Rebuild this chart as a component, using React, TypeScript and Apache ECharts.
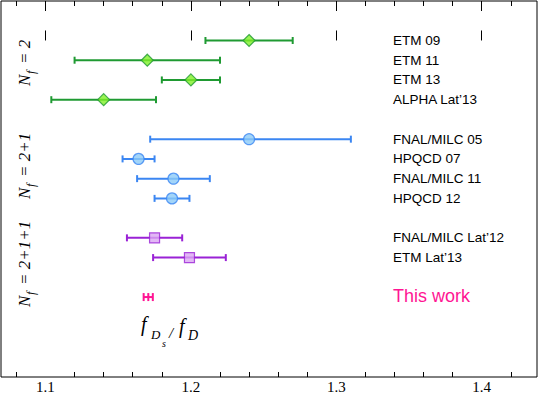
import React, { useEffect, useRef } from 'react';
import * as echarts from 'echarts';

// ---- data ----
const names = [
  'ETM 09', 'ETM 11', 'ETM 13', 'ALPHA Lat\u201913',
  'FNAL/MILC 05', 'HPQCD 07', 'FNAL/MILC 11', 'HPQCD 12',
  'FNAL/MILC Lat\u201912', 'ETM Lat\u201913', 'This work',
];
const rowIndex = [0, 1, 2, 3, 5, 6, 7, 8, 10, 11, 13];
const central = [1.24, 1.17, 1.2, 1.14, 1.24, 1.164, 1.188, 1.187, 1.175, 1.199, 1.1707];
const lower = [1.21, 1.12, 1.18, 1.104, 1.172, 1.153, 1.163, 1.175, 1.156, 1.174, 1.1675];
const upper = [1.27, 1.22, 1.22, 1.176, 1.31, 1.175, 1.213, 1.199, 1.194, 1.224, 1.1738];
const groupOf = ['nf2', 'nf2', 'nf2', 'nf2', 'nf21', 'nf21', 'nf21', 'nf21', 'nf211', 'nf211', 'this'];
const majorTicks = [1.1, 1.2, 1.3, 1.4];
const minorTicks = [1.08, 1.12, 1.14, 1.16, 1.18, 1.22, 1.24, 1.26, 1.28, 1.32, 1.34, 1.36, 1.38, 1.42];

const styles: Record<string, { line: string; fill: string; symbol: string; size: number }> = {
  nf2: { line: '#1f9a32', fill: '#80f028', symbol: 'diamond', size: 12 },
  nf21: { line: '#3b86f2', fill: '#8ccaf8', symbol: 'circle', size: 11 },
  nf211: { line: '#9a22d6', fill: '#dba6f2', symbol: 'rect', size: 10 },
  this: { line: '#ff1493', fill: '#ff1493', symbol: 'none', size: 0 },
};

const X_MIN = 1.0694;
const X_MAX = 1.438;

function nfLabel(bottomY: number, rest: string) {
  const font = 'italic 17px "Liberation Serif", "DejaVu Serif", serif';
  return {
    type: 'group',
    x: 24.5,
    y: bottomY,
    rotation: Math.PI / 2,
    children: [
      { type: 'text', x: 0, y: 0, style: { text: 'N', font, fill: '#000', align: 'left', verticalAlign: 'middle' } },
      { type: 'text', x: 12, y: 6, style: { text: 'f', font: 'italic 12px "Liberation Serif", serif', fill: '#000', align: 'left', verticalAlign: 'middle' } },
      { type: 'text', x: 22, y: 0, style: { text: rest, font, fill: '#000', align: 'left', verticalAlign: 'middle' } },
    ],
  };
}

export default function App() {
  const ref = useRef<HTMLDivElement>(null);
  useEffect(() => {
    document.body.style.margin = '0';
    const chart = echarts.init(ref.current!, null, { renderer: 'svg' });

    const customData = names.map((_, i) => [lower[i], upper[i], rowIndex[i], central[i], i]);

    const markerSeries = ['nf2', 'nf21', 'nf211'].map((g) => ({
      type: 'scatter',
      xAxisIndex: 0,
      yAxisIndex: 0,
      symbol: styles[g].symbol,
      symbolSize: styles[g].size,
      itemStyle: { color: styles[g].fill, borderColor: styles[g].line, borderWidth: 1.2 },
      data: central.map((c, i) => (groupOf[i] === g ? [c, rowIndex[i]] : null)).filter((d) => d !== null),
      z: 5,
    }));

    const serif = '"Liberation Serif", "DejaVu Serif", serif';
    const sans = '"Liberation Sans", Arial, sans-serif';

    const option: any = {
      animation: false,
      grid: { left: 1, right: 3, top: 1, bottom: 17, show: true, borderColor: '#000', borderWidth: 1, backgroundColor: 'transparent' },
      xAxis: [
        {
          type: 'value', min: X_MIN, max: X_MAX, position: 'bottom',
          axisLine: { show: false }, splitLine: { show: false },
          axisTick: { show: true, inside: true, length: 10, customValues: majorTicks, lineStyle: { color: '#000', width: 1 } },
          axisLabel: { show: true, customValues: majorTicks, formatter: (v: number) => v.toFixed(1), color: '#000', fontFamily: serif, fontSize: 15, margin: 2 },
        },
        {
          type: 'value', min: X_MIN, max: X_MAX, position: 'bottom',
          axisLine: { show: false }, splitLine: { show: false },
          axisTick: { show: true, inside: true, length: 5, customValues: minorTicks, lineStyle: { color: '#000', width: 1 } },
          axisLabel: { show: false },
        },
        {
          type: 'value', min: X_MIN, max: X_MAX, position: 'top',
          axisLine: { show: false }, splitLine: { show: false },
          axisTick: { show: true, inside: true, length: 10, customValues: majorTicks, lineStyle: { color: '#000', width: 1 } },
          axisLabel: { show: false },
        },
        {
          type: 'value', min: X_MIN, max: X_MAX, position: 'top',
          axisLine: { show: false }, splitLine: { show: false },
          axisTick: { show: true, inside: true, length: 5, customValues: minorTicks, lineStyle: { color: '#000', width: 1 } },
          axisLabel: { show: false },
        },
      ],
      yAxis: {
        type: 'value', min: -2, max: 17.05, inverse: true,
        axisLine: { show: false }, axisTick: { show: false }, axisLabel: { show: false }, splitLine: { show: false },
      },
      graphic: [
        nfLabel(86, '= 2'),
        nfLabel(199, '= 2+1'),
        nfLabel(307, '= 2+1+1'),
        { type: 'text', x: 141, y: 334, style: { text: 'f', font: `italic 20px ${serif}`, fill: '#000', align: 'left', verticalAlign: 'bottom' } },
        { type: 'text', x: 151, y: 341, style: { text: 'D', font: `italic 13px ${serif}`, fill: '#000', align: 'left', verticalAlign: 'bottom' } },
        { type: 'text', x: 162, y: 348, style: { text: 's', font: `italic 10px ${serif}`, fill: '#000', align: 'left', verticalAlign: 'bottom' } },
        { type: 'text', x: 169, y: 340, style: { text: '/', font: `italic 15px ${serif}`, fill: '#000', align: 'left', verticalAlign: 'bottom' } },
        { type: 'text', x: 179, y: 336, style: { text: 'f', font: `italic 20px ${serif}`, fill: '#000', align: 'left', verticalAlign: 'bottom' } },
        { type: 'text', x: 188, y: 342, style: { text: 'D', font: `italic 14px ${serif}`, fill: '#000', align: 'left', verticalAlign: 'bottom' } },
      ],
      series: [
        {
          type: 'custom',
          xAxisIndex: 0,
          yAxisIndex: 0,
          encode: { x: [0, 1, 3], y: 2 },
          data: customData,
          renderItem: (params: any, api: any) => {
            const i = api.value(4);
            const st = styles[groupOf[i]];
            const lo = api.coord([api.value(0), api.value(2)]);
            const hi = api.coord([api.value(1), api.value(2)]);
            const c = api.coord([api.value(3), api.value(2)]);
            const isThis = groupOf[i] === 'this';
            const capH = isThis ? 4 : 3.5;
            const ls = { stroke: st.line, lineWidth: 2 };
            const children: any[] = [
              { type: 'line', shape: { x1: lo[0], y1: lo[1], x2: hi[0], y2: hi[1] }, style: ls },
              { type: 'line', shape: { x1: lo[0], y1: lo[1] - capH, x2: lo[0], y2: lo[1] + capH }, style: ls },
              { type: 'line', shape: { x1: hi[0], y1: hi[1] - capH, x2: hi[0], y2: hi[1] + capH }, style: ls },
            ];
            if (isThis) {
              children.push({ type: 'line', shape: { x1: c[0], y1: c[1] - capH, x2: c[0], y2: c[1] + capH }, style: ls });
            }
            children.push({
              type: 'text',
              x: 393,
              y: c[1] + (isThis ? -1 : 0),
              style: {
                text: names[i],
                fill: isThis ? '#ff1493' : '#000',
                font: isThis ? `18px ${sans}` : `13.5px ${sans}`,
                align: 'left',
                verticalAlign: 'middle',
              },
            });
            return { type: 'group', children };
          },
          z: 3,
        },
        ...markerSeries,
      ],
    };
    chart.setOption(option);
    return () => chart.dispose();
  }, []);
  return <div ref={ref} style={{ width: 540, height: 394 }} />;
}
